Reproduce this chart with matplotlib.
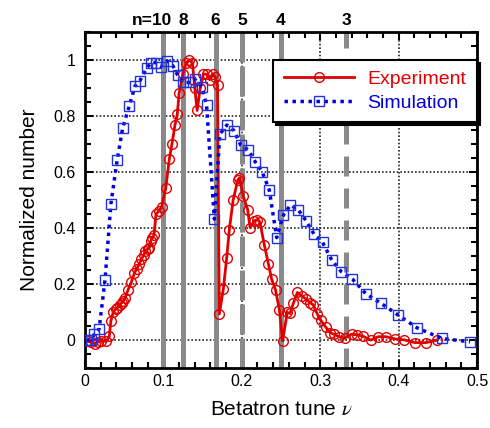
import matplotlib
matplotlib.use("Agg")
import matplotlib.pyplot as plt
from matplotlib.ticker import MultipleLocator, FuncFormatter

plt.rcParams['font.family'] = ['Liberation Sans', 'DejaVu Sans']
plt.rcParams['mathtext.fontset'] = 'stix'

# Experiment data
x_exp = [0.004, 0.008, 0.013, 0.017, 0.021, 0.027, 0.031, 0.033, 0.036, 0.039, 0.041,
         0.044, 0.047, 0.049, 0.051, 0.055, 0.059, 0.063, 0.066, 0.069, 0.072, 0.075,
         0.077, 0.080, 0.082, 0.084, 0.086, 0.088, 0.0906, 0.094, 0.0977, 0.103, 0.1075,
         0.111, 0.1148, 0.1177, 0.120, 0.125, 0.129, 0.133, 0.137, 0.140, 0.143, 0.147,
         0.151, 0.155, 0.159, 0.163, 0.166, 0.169, 0.1713, 0.1764, 0.1807, 0.184, 0.189,
         0.1948, 0.197, 0.202, 0.2075, 0.2105, 0.216, 0.2198, 0.223, 0.2287, 0.234, 0.238,
         0.243, 0.248, 0.252, 0.258, 0.2615, 0.2657, 0.2708, 0.2763, 0.282, 0.287, 0.291,
         0.2963, 0.3006, 0.3074, 0.3125, 0.318, 0.324, 0.3316, 0.340, 0.347, 0.355, 0.3644,
         0.374, 0.384, 0.3954, 0.407, 0.421, 0.435, 0.449]
y_exp = [-0.005, -0.008, -0.013, -0.006, -0.003, -0.005, 0.013, 0.069, 0.099, 0.11, 0.114,
         0.125, 0.134, 0.14, 0.15, 0.18, 0.206, 0.239, 0.255, 0.271, 0.289, 0.305,
         0.319, 0.325, 0.33, 0.355, 0.365, 0.376, 0.45, 0.46, 0.476, 0.543, 0.646,
         0.702, 0.769, 0.807, 0.881, 0.95, 0.99, 1.0, 0.99, 0.9, 0.82, 0.90,
         0.95, 0.95, 0.93, 0.95, 0.94, 0.91, 0.093, 0.182, 0.293, 0.393, 0.501,
         0.571, 0.579, 0.513, 0.465, 0.402, 0.426, 0.43, 0.422, 0.34, 0.271, 0.218,
         0.179, 0.107, -0.003, 0.099, 0.095, 0.131, 0.17, 0.158, 0.146, 0.134, 0.126,
         0.093, 0.071, 0.045, 0.027, 0.02, 0.012, 0.007, 0.021, 0.019, 0.013, 0.0,
         0.012, 0.012, 0.004, 0.001, -0.009, -0.009, 0.0]

# Simulation data
x_sim = [0.002, 0.008, 0.0115, 0.018, 0.0255, 0.033, 0.041, 0.048, 0.0565, 0.0638, 0.070,
         0.0787, 0.0842, 0.090, 0.0969, 0.105, 0.112, 0.118, 0.125, 0.134, 0.140, 0.149,
         0.155, 0.165, 0.172, 0.181, 0.190, 0.1986, 0.208, 0.217, 0.226, 0.235, 0.2445,
         0.253, 0.262, 0.272, 0.282, 0.292, 0.303, 0.3147, 0.327, 0.341, 0.358, 0.3776,
         0.3997, 0.424, 0.455, 0.491]
y_sim = [0.0, 0.0, 0.02, 0.04, 0.214, 0.486, 0.643, 0.757, 0.837, 0.908, 0.926,
         0.971, 0.991, 0.991, 0.977, 0.997, 0.98, 0.947, 0.92, 0.92, 0.932, 0.905,
         0.84, 0.432, 0.736, 0.768, 0.748, 0.696, 0.68, 0.637, 0.601, 0.536, 0.366,
         0.446, 0.482, 0.465, 0.426, 0.379, 0.349, 0.286, 0.244, 0.218, 0.166, 0.131,
         0.089, 0.043, 0.006, -0.006]

# Resonances
res_x = [0.1, 0.125, 1/6, 0.2, 0.25, 1/3]
res_labels = ['n=10', '8', '6', '5', '4', '3']
res_dashed = [False, False, False, True, False, True]

fig = plt.figure(figsize=(4.9, 4.28), dpi=100)
ax = fig.add_axes([0.1735, 0.140, 0.80, 0.785])

ax.set_xlim(0, 0.5)
ax.set_ylim(-0.1, 1.1)

ax.grid(True, which='major', color='0.15', linestyle=(0, (1, 1.2)), linewidth=1.2, zorder=0)
ax.set_axisbelow(True)

for xr, dashed in zip(res_x, res_dashed):
    ls = (0, (4.0, 2.4)) if dashed else '-'
    if xr == 0.2:
        ls = (0, (6.0, 0.8))
    ax.axvline(xr, color='#8a8a8a', linewidth=3.6, linestyle=ls, zorder=1)

for xr, lab in zip(res_x, res_labels):
    if lab.startswith('n='):
        ax.text(xr + 0.0105, 1.115, lab, ha='right', va='bottom', fontsize=12.5,
                fontweight='bold', transform=ax.transData)
    else:
        ax.text(xr, 1.115, lab, ha='center', va='bottom', fontsize=12.5,
                fontweight='bold', transform=ax.transData)

ax.plot(x_exp, y_exp, color='#e00000', linewidth=2.0, marker='o', markersize=7,
        markerfacecolor='none', markeredgecolor='#e00000', markeredgewidth=1.0,
        label='Experiment', zorder=3)
ax.plot(x_sim, y_sim, color='#0000dd', linewidth=2.5, linestyle=(0, (1, 1.3)),
        marker='s', markersize=7.5, markerfacecolor='none', markeredgecolor='#2233dd',
        markeredgewidth=1.0, label='Simulation', zorder=4)

ax.xaxis.set_major_locator(MultipleLocator(0.1))
ax.xaxis.set_minor_locator(MultipleLocator(0.02))
ax.yaxis.set_major_locator(MultipleLocator(0.2))
ax.yaxis.set_minor_locator(MultipleLocator(0.05))
fmt = FuncFormatter(lambda v, p: ('%g' % round(v, 3)))
ax.xaxis.set_major_formatter(fmt)
ax.yaxis.set_major_formatter(fmt)

ax.tick_params(which='both', direction='in', top=True, right=True, width=1.5, labelsize=11.5)
ax.tick_params(which='major', length=6)
ax.tick_params(which='minor', length=4)
ax.tick_params(axis='x', pad=4)
ax.tick_params(axis='y', pad=7)
for s in ax.spines.values():
    s.set_linewidth(2)

ax.set_xlabel('Betatron tune $\\nu$', fontsize=15, labelpad=8)
ax.set_ylabel('Normalized number', fontsize=15, labelpad=10)

leg = ax.legend(loc='upper right', bbox_to_anchor=(1.0, 0.917), fontsize=14,
                handlelength=3.6, frameon=True, fancybox=False, edgecolor='black',
                framealpha=1, shadow={'color': 'black', 'alpha': 1},
                borderpad=0.55, labelspacing=0.3, handletextpad=0.7, borderaxespad=0)
leg.get_frame().set_linewidth(1.5)
for t, c in zip(leg.get_texts(), ['#e00000', '#0000dd']):
    t.set_color(c)

fig.savefig('out.png', dpi=100)
